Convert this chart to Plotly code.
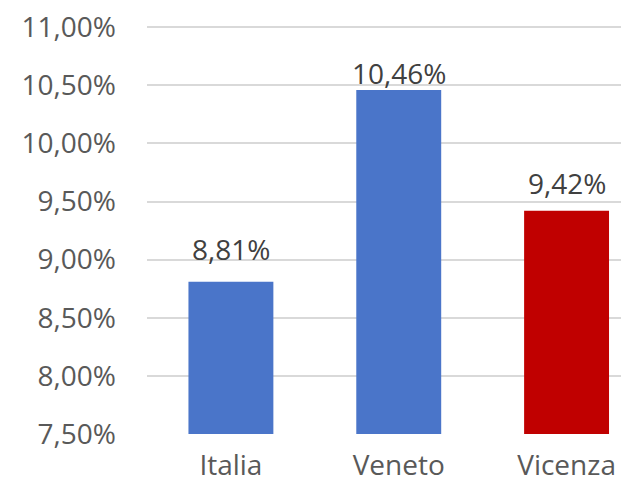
import plotly.graph_objects as go

categories = ["Italia", "Veneto", "Vicenza"]
values = [8.81, 10.46, 9.42]
bar_colors = ["#4A75C9", "#4A75C9", "#C00000"]
label_shift = [12, -4, 7]  # manual label placement above each bar (px)
tick_values = [7.5, 8.0, 8.5, 9.0, 9.5, 10.0, 10.5, 11.0]
tick_labels = [f"{v:.2f}".replace(".", ",") + "%" for v in tick_values]

FONT = "Open Sans"

fig = go.Figure(
    go.Bar(
        x=categories,
        y=values,
        marker=dict(color=bar_colors, line=dict(width=0)),
        width=0.506,
        hovertemplate="%{x}: %{y:.2f}%<extra></extra>",
    )
)

for cat, val, sh in zip(categories, values, label_shift):
    fig.add_annotation(
        x=cat,
        y=val,
        text=f"{val:.2f}".replace(".", ",") + "%",
        showarrow=False,
        xanchor="center",
        yanchor="bottom",
        yshift=sh,
        font=dict(family=FONT, size=28, color="#404040"),
    )

# page body has an 8px default margin, so the figure is sized to the remaining viewport
fig.update_layout(
    width=621,
    height=478,
    margin=dict(l=139, r=0, t=18, b=52, autoexpand=False),
    paper_bgcolor="white",
    plot_bgcolor="white",
    separators=",.",
    showlegend=False,
    font=dict(family=FONT, size=28, color="#595959"),
    xaxis=dict(
        range=[-0.5, 2.372],
        showgrid=False,
        showline=False,
        ticks="",
        automargin=False,
        ticklabeloverflow="allow",
        tickfont=dict(family=FONT, size=28, color="#595959"),
        ticklabelstandoff=12,
    ),
    yaxis=dict(
        range=[7.5, 11.01],
        tickvals=tick_values,
        ticktext=tick_labels,
        showgrid=True,
        gridcolor="#D9D9D9",
        gridwidth=1.5,
        zeroline=False,
        showline=False,
        ticks="",
        automargin=False,
        ticklabeloverflow="allow",
        ticklabelstandoff=30,
        tickfont=dict(family=FONT, size=28, color="#595959"),
    ),
)

fig.write_html("out.html")
